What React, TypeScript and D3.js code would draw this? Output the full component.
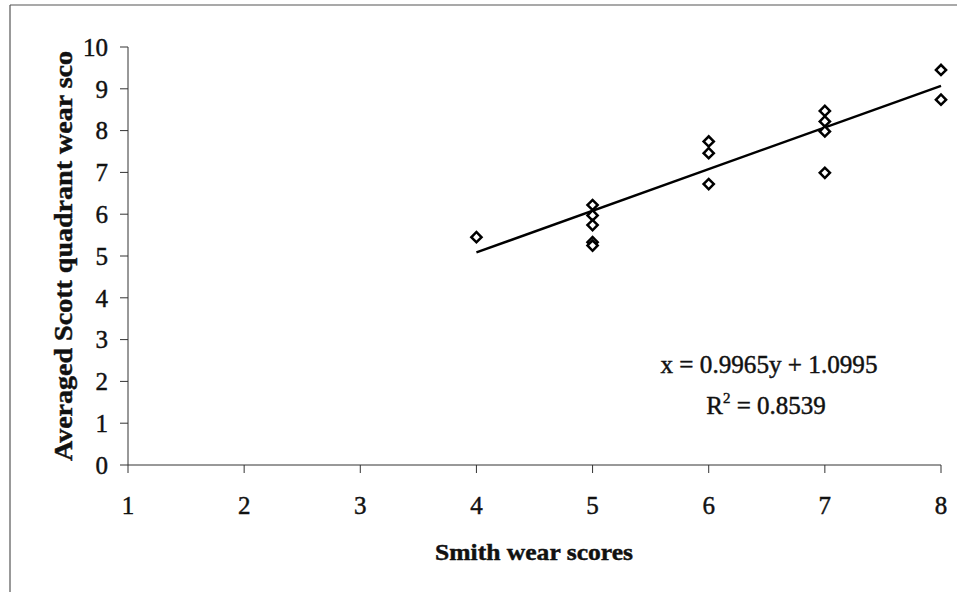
import React from "react";
import * as d3 from "d3";

// Smith wear score (x) vs averaged Scott quadrant score (y)
const smithScores = [4, 5, 5, 5, 5, 5, 6, 6, 6, 7, 7, 7, 7, 8, 8];
const scottScores = [5.45, 6.22, 5.97, 5.74, 5.33, 5.25, 7.74, 7.46, 6.72, 8.47, 8.22, 7.98, 6.99, 9.45, 8.74];

const xTicks = [1, 2, 3, 4, 5, 6, 7, 8];
const yTicks = [0, 1, 2, 3, 4, 5, 6, 7, 8, 9, 10];

const trendSlope = 0.9965;
const trendIntercept = 1.0995;
const trendRange = [4, 8];
const rSquared = "0.8539";

const W = 957;
const H = 592;
const serif = "'Liberation Serif', 'Times New Roman', serif";

const App = () => {
  const x = d3.scaleLinear().domain([1, 8]).range([128, 941]);
  const y = d3.scaleLinear().domain([0, 10]).range([465, 47]);

  const points = smithScores.map((s, i) => ({ s, v: scottScores[i] }));
  const marker = d3.symbol().type(d3.symbolSquare).size(52)();

  const trend = d3
    .line<number>()
    .x((d) => x(d))
    .y((d) => y(trendSlope * d + trendIntercept));

  const axisColor = "#333";
  // the scan makes every glyph a little heavier
  const ink = { fill: "#111", stroke: "#111", strokeWidth: 0.45 };

  return (
    <svg
      width={W}
      height={H}
      style={{ position: "absolute", left: 0, top: 0, background: "#fff" }}
      fontFamily={serif}
    >
      {/* scanned frame */}
      <line x1={10} y1={5} x2={W} y2={5} stroke="#555" strokeWidth={1.2} />
      <line x1={10} y1={5} x2={10} y2={H} stroke="#555" strokeWidth={1.2} />

      {/* y axis */}
      <line x1={x(1)} y1={y(0)} x2={x(1)} y2={y(10)} stroke={axisColor} />
      {yTicks.map((t) => (
        <g key={"y" + t}>
          <line x1={x(1) - 8} x2={x(1)} y1={y(t)} y2={y(t)} stroke={axisColor} />
          <text x={x(1) - 20} y={y(t)} dy="0.35em" textAnchor="end" fontSize={25} {...ink}>
            {t}
          </text>
        </g>
      ))}

      {/* x axis */}
      <line x1={x(1)} y1={y(0)} x2={x(8)} y2={y(0)} stroke={axisColor} />
      {xTicks.map((t) => (
        <g key={"x" + t}>
          <line x1={x(t)} x2={x(t)} y1={y(0)} y2={y(0) + 8} stroke={axisColor} />
          <text x={x(t)} y={514} textAnchor="middle" fontSize={25} {...ink}>
            {t}
          </text>
        </g>
      ))}

      {/* axis titles */}
      <text
        x={534}
        y={560}
        textAnchor="middle"
        fontSize={24}
        fontWeight="bold"
        textLength={198}
        lengthAdjust="spacingAndGlyphs"
        {...ink}
      >
        Smith wear scores
      </text>
      <text
        transform="translate(72, 256) rotate(-90)"
        textAnchor="middle"
        fontSize={25}
        fontWeight="bold"
        textLength={410}
        lengthAdjust="spacingAndGlyphs"
        {...ink}
      >
        Averaged Scott quadrant wear sco
      </text>

      {/* trend line */}
      <path d={trend(trendRange) || ""} fill="none" stroke="#000" strokeWidth={2.4} />

      {/* points */}
      {points.map((p, i) => (
        <path
          key={i}
          d={marker}
          transform={`translate(${x(p.s)}, ${y(p.v)}) rotate(45)`}
          fill="#fff"
          stroke="#000"
          strokeWidth={2.5}
        />
      ))}

      {/* regression label */}
      <text
        x={769}
        y={373}
        textAnchor="middle"
        fontSize={25}
        textLength={217}
        lengthAdjust="spacingAndGlyphs"
        {...ink}
      >
        {`x = ${trendSlope}y + ${trendIntercept}`}
      </text>
      <text x={766} y={414} textAnchor="middle" fontSize={25} {...ink}>
        R
        <tspan dy={-11} fontSize={15}>
          2
        </tspan>
        <tspan dy={11}>{` = ${rSquared}`}</tspan>
      </text>
    </svg>
  );
};

export default App;
